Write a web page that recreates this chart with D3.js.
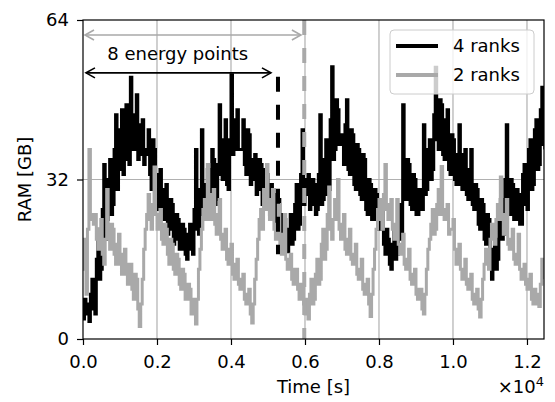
<!DOCTYPE html>
<html><head><meta charset="utf-8">
<script src="https://cdn.jsdelivr.net/npm/d3@7"></script>
<style>body{margin:0;background:#fff} svg{display:block} text{font-family:"DejaVu Sans",sans-serif}</style>
</head><body><svg id="c" width="555" height="402"></svg>
<script>
// ---- data ----
const sampleStep = 40; // seconds between plotted samples
const ram4 = [4,8,7,5,3.5,9,12,6,5,16,22,12,14,26,35,20,24,32,36,25,
  27,38,45,30,34,42,46,33,36,47,44,35,52.5,40,38,45,49,36,37,43,
  44,35,37,38,42,33,30,40,38,28,26,33,34,25,24,30,31,21,22,28,
  27,19,20,25,24,18,18,23,22,17,16,21,23,18,17,26,38,22,21,30,
  42,25,24,31,34,26,27,38,36,27,28,35,47,33,32,40,44,31,30,40,
  53,37,38,44,46,38,38,38,44,35,33,42,41,31,32,36,37,29,30,36,
  35,27,28,34,33,26,25,31,30,24,23,29,28,21,19,25,24,18,17.5,22,
  25,19,20,27,31,22,23,33,42,27,29,32,33,26,27,32,31,25,26,33,
  45,27,28,36,40,29,30,44,54.6,36,38,48,46,39,40,41,35,43,48,34,
  33,42,41,31,30,39,38,29,28,37,36,26,25,32,31,24,24,30,29,22,
  22,27,26,19,17,22,20,15,14,19,22,16,17,24,27,20,47,30,28,36,
  35,27,26,33,32,25,25,30,28,26,43,29,30,38,40,32,34,45,54.5,40,
  38,48,47,37,36,44,46,34,33,41,40,32,31,37,43,31,30,37,38,29,
  28,34,38,27,26,31,30,23,22,28,27,20,19,25,24,15,12,18,20,14,
  16,24,28,20,21,32,43,26,25,32,31,24,24,30,29,23,23,33,35,27,
  26,38,40,30,31,42,44,34,35,46,50.5,39,38];
const ram2 = [20,14,9,22,38,25,24,23,25,20,18,22,24,17,15,20,30,21,18,23,
  22,17,15,19,21,15,13,17,18,13,11,15,15,10,8,13,12,6,2.5,7,
  12,18,22,25,29,24,22,27,34.5,25,22,24,26,20,19,23,22,17,15,20,
  19,14,13,17,16,11,10,14,13,8,8,11,10,5,6,8,3,8,14,18,
  22,26,28,24,35,27,24,29,30,23,21,25,28,20,18,21,22,16,15,18,
  19,13,12,15,16,11,10,12,13,8,7,9,10,5,3.2,7,12,16,20,24,
  26,22,30,26,35,28,24,26,30,22,20,23,27,19,17,21,25,16,14,16,
  17,12,11,14,14,10,8,11,11,7,5,8,4,9,12,7,8,13,16,11,
  12,19,22,16,18,25,30.5,22,20,24,28,24,32,22,20,23,25,18,17,20,
  22,16,15,17,19,13,12,14,16,10,9,11,12,7,4.5,9,14,18,22,26,
  28,24,22,29,35,26,24,27,28,22,20,23,28,19,17,19,21,15,14,16,
  18,12,11,13,14,9,8,10,10,6,5,9,14,18,20,23,26,21,22,27,
  30,25,34.6,26,24,25,27,21,22,22,24,18,15,17,19,14,12,14,16,11,
  10,12,13,8,7,9,10,6,4.4,8,12,15,18,16,14,20,23,20,19,24,
  27,24,32.5,25,21,23,28,19,18,20,22,16,15,17,21,14,12,13,15,11,
  10,12,13,8,7,10,9,7,6.5,11,16,13,12];
const seriesNames = ["4 ranks", "2 ranks"];
const seriesColors = ["#000000", "#a9a9a9"];
const xTicks = [0, 2000, 4000, 6000, 8000, 10000, 12000];
const xTickLabels = ["0.0", "0.2", "0.4", "0.6", "0.8", "1.0", "1.2"];
const yTicks = [0, 32, 64];
const xMax = 12460, yMax = 64;
const blackMark = {t: 5270, y0: 17, y1: 52.6};
const grayMark = {t: 5980, y0: 0, y1: 64};
const blackArrow = {t0: 80, t1: 5080, y: 53.4};
const grayArrow = {t0: 54, t1: 5890, y: 61};
const annoText = "8 energy points";

// ---- drawing ----
const svg = d3.select("#c");
const L = 83, R = 544, T = 20, B = 339;
const x = d3.scaleLinear([0, xMax], [L, R]);
const y = d3.scaleLinear([0, yMax], [B, T]);

svg.append("defs").append("clipPath").attr("id", "clip")
  .append("rect").attr("x", L).attr("y", T).attr("width", R - L).attr("height", B - T);

// grid
const grid = svg.append("g");
grid.selectAll(".gx").data(xTicks.slice(1)).join("line")
  .attr("x1", d => x(d)).attr("x2", d => x(d)).attr("y1", T).attr("y2", B)
  .attr("stroke", "#b0b0b0").attr("stroke-width", 1.2);
grid.selectAll(".gy").data(yTicks.slice(1, -1)).join("line")
  .attr("x1", L).attr("x2", R).attr("y1", d => y(d)).attr("y2", d => y(d))
  .attr("stroke", "#b0b0b0").attr("stroke-width", 1.2);

const plot = svg.append("g").attr("clip-path", "url(#clip)");
const line = d3.line().x((d, i) => x(i * sampleStep)).y(d => y(d)).curve(d3.curveStepAfter);
plot.append("path").datum(ram4).attr("d", line).attr("fill", "none")
  .attr("stroke", seriesColors[0]).attr("stroke-width", 3);
plot.append("path").datum(ram2).attr("d", line).attr("fill", "none")
  .attr("stroke", seriesColors[1]).attr("stroke-width", 3);

// dashed markers
plot.append("line").attr("x1", x(blackMark.t)).attr("x2", x(blackMark.t))
  .attr("y1", y(blackMark.y1)).attr("y2", y(blackMark.y0))
  .attr("stroke", "#000").attr("stroke-width", 4).attr("stroke-dasharray", "15,13");
plot.append("line").attr("x1", x(grayMark.t)).attr("x2", x(grayMark.t))
  .attr("y1", y(grayMark.y1)).attr("y2", y(grayMark.y0))
  .attr("stroke", "#a9a9a9").attr("stroke-width", 4).attr("stroke-dasharray", "15,13");

// arrows
function dblArrow(a, color) {
  const g = svg.append("g").attr("stroke", color).attr("stroke-width", 1.6).attr("fill", "none");
  const x0 = x(a.t0), x1 = x(a.t1), yy = y(a.y);
  g.append("line").attr("x1", x0).attr("x2", x1).attr("y1", yy).attr("y2", yy);
  g.append("path").attr("d", `M${x0 + 9},${yy - 5}L${x0},${yy}L${x0 + 9},${yy + 5}`);
  g.append("path").attr("d", `M${x1 - 9},${yy - 5}L${x1},${yy}L${x1 - 9},${yy + 5}`);
}
dblArrow(grayArrow, "#a9a9a9");
dblArrow(blackArrow, "#000");
svg.append("text").attr("x", x((blackArrow.t0 + blackArrow.t1) / 2 - 20)).attr("y", y(56))
  .attr("text-anchor", "middle").attr("font-size", 18).attr("fill", "#000").text(annoText);

// frame
svg.append("rect").attr("x", L).attr("y", T).attr("width", R - L).attr("height", B - T)
  .attr("fill", "none").attr("stroke", "#000").attr("stroke-width", 1.2);

// axes
const xa = svg.append("g").attr("transform", `translate(0,${B})`)
  .call(d3.axisBottom(x).tickValues(xTicks).tickFormat((d, i) => xTickLabels[i]).tickSize(6).tickPadding(10));
const ya = svg.append("g").attr("transform", `translate(${L},0)`)
  .call(d3.axisLeft(y).tickValues(yTicks).tickFormat(d3.format("d")).tickSize(6).tickPadding(8));
[xa, ya].forEach(a => {
  a.select(".domain").remove();
  a.selectAll("line").attr("stroke", "#000").attr("stroke-width", 1.2);
  a.selectAll("text").attr("font-size", 18).attr("fill", "#000").attr("font-family", "DejaVu Sans");
});

svg.append("text").attr("x", (L + R) / 2).attr("y", 393).attr("text-anchor", "middle")
  .attr("font-size", 18).attr("fill", "#000").text("Time [s]");
const ex = svg.append("text").attr("x", R).attr("y", 393).attr("text-anchor", "end")
  .attr("font-size", 18).attr("fill", "#000");
ex.append("tspan").text("×10");
ex.append("tspan").attr("dy", -7).attr("font-size", 13).text("4");
svg.append("text").attr("transform", `translate(31,${(T + B) / 2}) rotate(-90)`)
  .attr("text-anchor", "middle").attr("font-size", 18).attr("fill", "#000").text("RAM [GB]");

// legend
const lg = svg.append("g");
lg.append("rect").attr("x", 390).attr("y", 30).attr("width", 144).attr("height", 64).attr("rx", 4)
  .attr("fill", "#fff").attr("fill-opacity", 0.8).attr("stroke", "#cccccc").attr("stroke-width", 1);
seriesNames.forEach((n, i) => {
  const yy = 46 + i * 29;
  lg.append("line").attr("x1", 396).attr("x2", 438).attr("y1", yy).attr("y2", yy)
    .attr("stroke", seriesColors[i]).attr("stroke-width", 4);
  lg.append("text").attr("x", 453).attr("y", yy).attr("dy", "0.36em")
    .attr("font-size", 18).attr("fill", "#000").text(n);
});
</script></body></html>
